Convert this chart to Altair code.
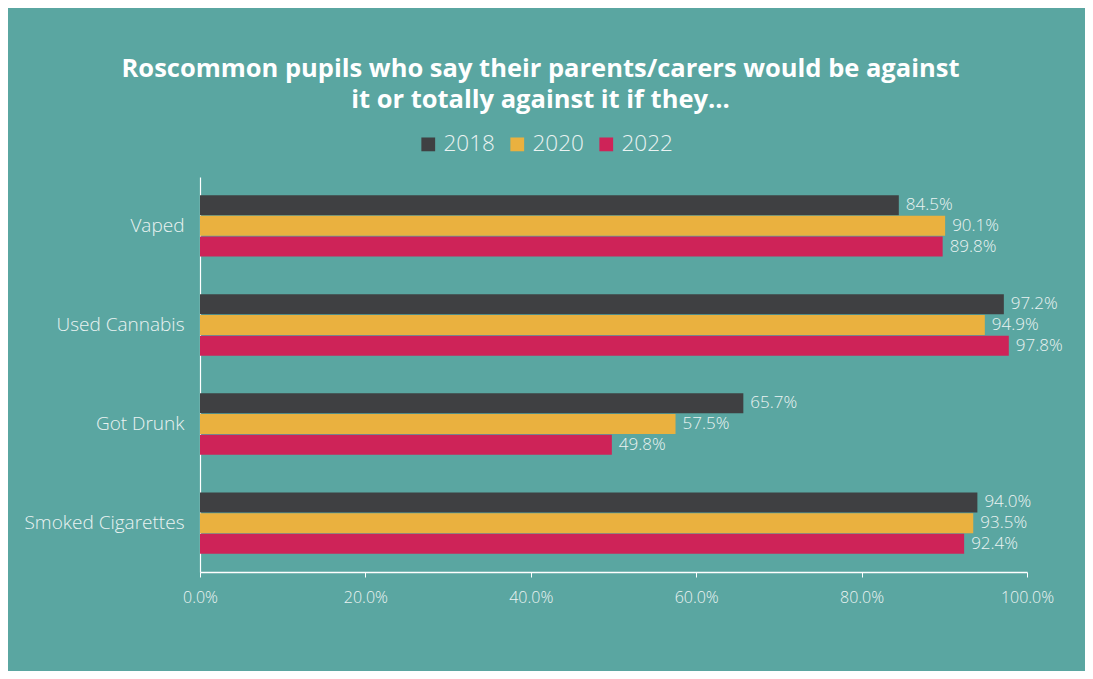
import altair as alt
import pandas as pd

categories = ["Vaped", "Used Cannabis", "Got Drunk", "Smoked Cigarettes"]
years = ["2018", "2020", "2022"]
values_2018 = [84.5, 97.2, 65.7, 94.0]
values_2020 = [90.1, 94.9, 57.5, 93.5]
values_2022 = [89.8, 97.8, 49.8, 92.4]
colors = ["#3F4042", "#EAB13F", "#CE2358"]

rows = []
for yr, vals in zip(years, [values_2018, values_2020, values_2022]):
    for c, v in zip(categories, vals):
        rows.append({"category": c, "year": yr, "value": v, "label": f"{v:.1f}%"})
df = pd.DataFrame(rows)

BG = "#5AA6A1"
TXT = "#EAF3F2"
FONT = "Open Sans"

y_enc = alt.Y("category:N", sort=categories, title=None,
              scale=alt.Scale(paddingInner=0.374, paddingOuter=0.18),
              axis=alt.Axis(domainColor="white", domainWidth=1.2, ticks=False,
                            labelColor=TXT, labelFont=FONT, labelFontSize=19,
                            labelFontWeight=300,
                            labelPadding=16, grid=False))
x_axis = alt.Axis(values=[0, 20, 40, 60, 80, 100],
                  labelExpr="format(datum.value, '.1f') + '%'",
                  domainColor="white", domainWidth=1.5,
                  tickColor="white", tickSize=5, grid=False,
                  labelFlush=False, labelOverlap=False,
                  labelColor=TXT, labelFont=FONT, labelFontSize=16,
                  labelFontWeight=300, labelPadding=12)
x_scale = alt.Scale(domain=[0, 100], nice=False)

base = alt.Chart(df).encode(
    y=y_enc,
    yOffset=alt.YOffset("year:N", sort=years),
)

bars = base.mark_bar(size=20).encode(
    x=alt.X("value:Q", title=None, scale=x_scale, axis=x_axis),
    color=alt.Color("year:N", sort=years,
                    scale=alt.Scale(domain=years, range=colors),
                    legend=alt.Legend(title=None, orient="none", direction="horizontal",
                                      legendX=217, legendY=-44, symbolType="square",
                                      symbolSize=190, symbolStrokeWidth=0,
                                      labelFont=FONT, labelFontSize=22.5, labelColor=TXT,
                                      labelFontWeight=300,
                                      labelOffset=4, columnPadding=11, padding=0)),
)

labels = base.mark_text(align="left", baseline="middle", dx=7, font=FONT,
                        fontSize=17, fontWeight=300, color=TXT).encode(
    x=alt.X("value:Q", title=None, scale=x_scale, axis=x_axis),
    text="label:N",
)

chart = alt.layer(bars, labels).properties(
    width=827, height=395,
    autosize=alt.AutoSizeParams(type="none"),
    padding={"left": 192, "top": 169, "right": 58, "bottom": 99},
    background=BG,
    title=alt.TitleParams(
        text=["Roscommon pupils who say their parents/carers would be against",
              "it or totally against it if they..."],
        font=FONT, fontSize=25.5, fontWeight="bold", color="white",
        anchor="middle", frame="group", dx=-73, offset=20, lineHeight=31),
).configure_view(stroke=None)

chart.save("out.html", embed_options={"renderer": "svg", "actions": False})
